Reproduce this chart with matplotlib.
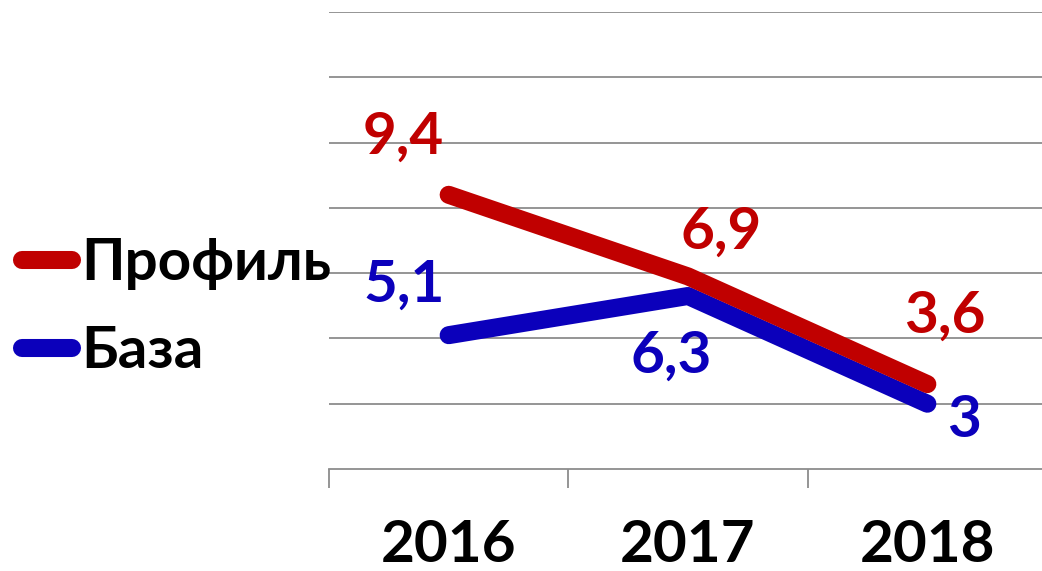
import matplotlib
matplotlib.use("Agg")
import matplotlib.pyplot as plt
import numpy as np

years = ["2016", "2017", "2018"]
profile = [9.4, 6.9, 3.6]
base = [5.1, 6.3, 3.0]
profile_labels = ["9,4", "6,9", "3,6"]
base_labels = ["5,1", "6,3", "3"]

RED = "#C00000"
BLUE = "#0B00BB"
GRID = "#8c8c8c"
FS = 42

plt.rcParams["font.family"] = ["Lato", "DejaVu Sans"]
plt.rcParams["font.weight"] = "bold"

fig = plt.figure(figsize=(10.42, 5.71), dpi=100)
ax = fig.add_axes([329 / 1042, 1 - 469 / 571, (1047 - 329) / 1042, (469 - 12) / 571])

x = np.arange(len(years))
ax.plot(x, profile, color=RED, lw=13, solid_capstyle="round", label="Профиль", zorder=3)
ax.plot(x, base, color=BLUE, lw=13, solid_capstyle="round", label="База", zorder=2)

# label offsets in pixels
prof_off = [(-45, 58), (33, 44), (17, 68)]
base_off = [(-45, 50), (-17, -60), (37, -17)]
for xi, v, t, off in zip(x, profile, profile_labels, prof_off):
    ax.annotate(t, (xi, v), xytext=off, textcoords="offset pixels",
                ha="center", va="center", color=RED, fontsize=FS, fontweight="bold")
for xi, v, t, off in zip(x, base, base_labels, base_off):
    ax.annotate(t, (xi, v), xytext=off, textcoords="offset pixels",
                ha="center", va="center", color=BLUE, fontsize=FS, fontweight="bold")

ax.set_xlim(-0.5, 2.5)
ax.set_ylim(1, 15)
ax.set_yticks(np.arange(3, 16, 2))
ax.yaxis.grid(True, color=GRID, lw=1.3)
ax.set_axisbelow(True)
ax.tick_params(axis="y", left=False, labelleft=False)

ax.set_xticks(x, years)
ax.set_xticks([-0.5, 0.5, 1.5, 2.5], minor=True)
ax.tick_params(axis="x", which="major", length=0, pad=36, labelsize=FS)
ax.tick_params(axis="x", which="minor", length=14, width=1.3, color=GRID, direction="out")
for lbl in ax.get_xticklabels():
    lbl.set_fontweight("bold")

for side in ["top", "right", "left"]:
    ax.spines[side].set_visible(False)
ax.spines["bottom"].set_color(GRID)
ax.spines["bottom"].set_linewidth(1.3)

fig.legend(loc="center left", bbox_to_anchor=(22 / 1042, 1 - 308 / 571), frameon=False,
           borderpad=0, borderaxespad=0,
           handlelength=0.86, handletextpad=0.15, labelspacing=0.6,
           prop={"weight": "bold", "size": FS})

fig.savefig("out.png", dpi=100)
